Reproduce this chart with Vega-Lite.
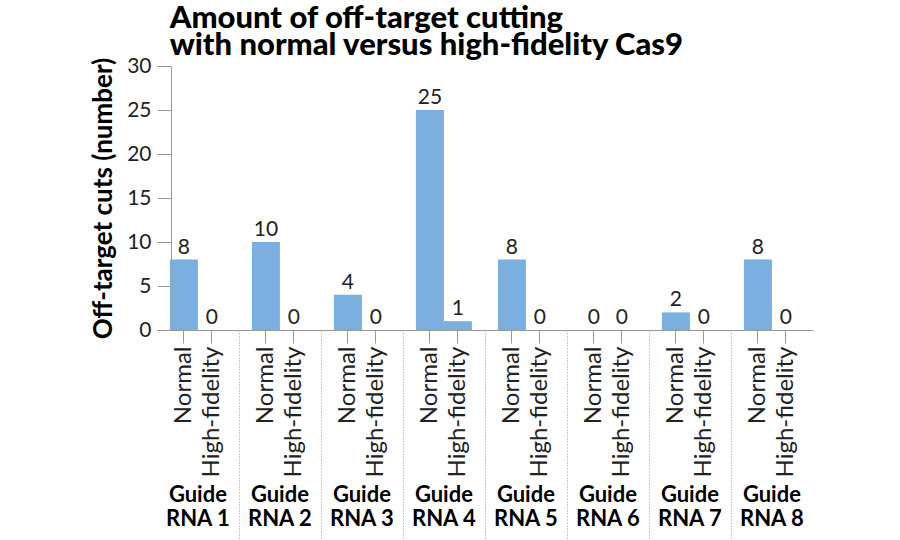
{
  "$schema": "https://vega.github.io/schema/vega-lite/v6.json",
  "padding": {"left": 90, "top": 3, "right": 5, "bottom": 0},
  "background": "white",
  "title": {
    "text": ["Amount of off-target cutting", "with normal versus high-fidelity Cas9"],
    "anchor": "start",
    "font": "Lato",
    "fontSize": 31,
    "fontWeight": 900,
    "lineHeight": 27,
    "color": "#000000",
    "dx": 79,
    "offset": -7
  },
  "data": {
    "values": [
      {"guide": 1, "type": "Normal", "cuts": 8},
      {"guide": 1, "type": "High-fidelity", "cuts": 0},
      {"guide": 2, "type": "Normal", "cuts": 10},
      {"guide": 2, "type": "High-fidelity", "cuts": 0},
      {"guide": 3, "type": "Normal", "cuts": 4},
      {"guide": 3, "type": "High-fidelity", "cuts": 0},
      {"guide": 4, "type": "Normal", "cuts": 25},
      {"guide": 4, "type": "High-fidelity", "cuts": 1},
      {"guide": 5, "type": "Normal", "cuts": 8},
      {"guide": 5, "type": "High-fidelity", "cuts": 0},
      {"guide": 6, "type": "Normal", "cuts": 0},
      {"guide": 6, "type": "High-fidelity", "cuts": 0},
      {"guide": 7, "type": "Normal", "cuts": 2},
      {"guide": 7, "type": "High-fidelity", "cuts": 0},
      {"guide": 8, "type": "Normal", "cuts": 8},
      {"guide": 8, "type": "High-fidelity", "cuts": 0}
    ]
  },
  "facet": {
    "column": {"field": "guide", "type": "ordinal", "header": {"labels": false, "title": null}}
  },
  "spacing": 0,
  "bounds": "flush",
  "resolve": {"scale": {"x": "independent"}},
  "spec": {
    "width": 81.8,
    "height": 264,
    "layer": [
      {
        "mark": {"type": "bar", "color": "#7aafdf"},
        "encoding": {
          "x": {
            "field": "type", "type": "nominal", "sort": ["Normal", "High-fidelity"],
            "scale": {"type": "band", "paddingInner": 0, "paddingOuter": 0.46},
            "axis": {
              "orient": "bottom", "title": null, "labelAngle": -90,
              "labelFont": "Lato", "labelFontSize": 24, "labelColor": "#222222",
              "tickSize": 13, "tickColor": "#999999", "domainColor": "#999999",
              "labelPadding": 3, "grid": false
            }
          },
          "y": {
            "field": "cuts", "type": "quantitative",
            "scale": {"domain": [0, 30], "nice": false},
            "axis": {
              "values": [0, 5, 10, 15, 20, 25, 30],
              "grid": false, "offset": -14, "tickSize": 14,
              "tickColor": "#999999", "domainColor": "#999999",
              "labelFont": "Lato", "labelFontSize": 21, "labelColor": "#222222", "labelPadding": 6,
              "title": "Off-target cuts (number)", "titleFont": "Lato", "titleFontSize": 26,
              "titleFontWeight": "bold", "titleColor": "#000000", "titlePadding": 10
            }
          }
        }
      },
      {
        "mark": {"type": "text", "font": "Lato", "fontSize": 21, "color": "#222222", "baseline": "alphabetic", "dy": -6},
        "encoding": {
          "x": {
            "field": "type", "type": "nominal", "sort": ["Normal", "High-fidelity"],
            "scale": {"type": "band", "paddingInner": 0, "paddingOuter": 0.46},
            "axis": null
          },
          "y": {"field": "cuts", "type": "quantitative"},
          "text": {"field": "cuts", "type": "quantitative"}
        }
      },
      {
        "mark": {"type": "text", "text": ""},
        "encoding": {
          "x": {
            "field": "guide", "type": "ordinal",
            "scale": {"type": "band", "paddingInner": 0, "paddingOuter": 0},
            "axis": {
              "orient": "bottom", "title": null, "domain": false,
              "bandPosition": 0, "ticks": true, "tickSize": 212, "tickDash": [1, 2],
              "tickColor": "#999999", "tickWidth": 1,
              "tickOpacity": {"condition": {"test": "datum.value === 1", "value": 0}, "value": 1},
              "labelExpr": "['Guide', 'RNA ' + datum.label]",
              "labelAngle": 0, "labelAlign": "center", "labelBaseline": "top",
              "labelFont": "Lato", "labelFontSize": 22, "labelFontWeight": "bold",
              "labelColor": "#000000", "labelLineHeight": 24, "labelPadding": -58
            }
          }
        }
      }
    ],
    "resolve": {"scale": {"x": "independent"}}
  },
  "config": {"view": {"stroke": null}}
}
